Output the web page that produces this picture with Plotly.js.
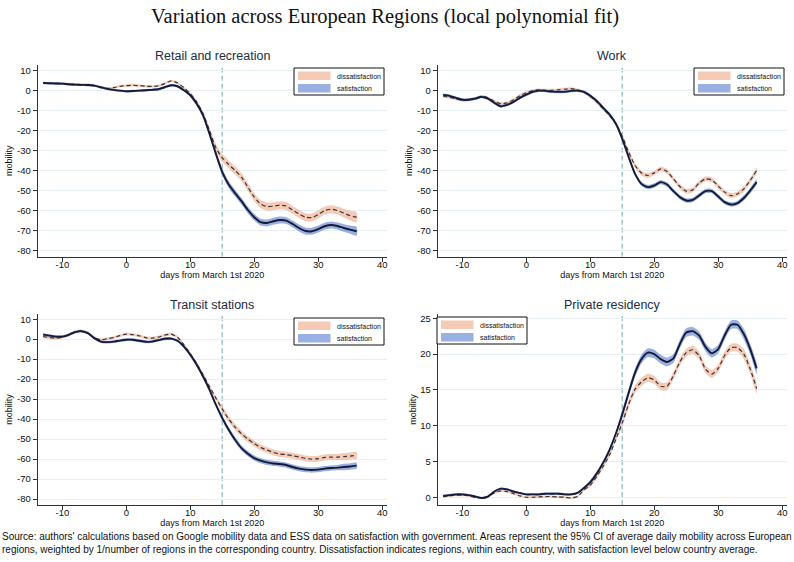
<!DOCTYPE html>
<html><head><meta charset="utf-8">
<script src="https://cdn.plot.ly/plotly-3.0.1.min.js"></script>
<style>body{margin:0;background:#fff}#chart{width:794px;height:562px}</style>
</head><body><div id="chart"></div>
<script>
// ---- data ----
const days = [-13,-12,-11,-10,-9,-8,-7,-6,-5,-4,-3,-2,-1,0,1,2,3,4,5,6,7,8,9,10,11,12,13,14,15,16,17,18,19,20,21,22,23,24,25,26,27,28,29,30,31,32,33,34,35,36];
const seriesNames = ['dissatisfaction','satisfaction'];
const panelTitles = ['Retail and recreation','Work','Transit stations','Private residency'];
const xTicks = [-10,0,10,20,30,40];
const yTicksMob = [-80,-70,-60,-50,-40,-30,-20,-10,0,10];
const yTicksRes = [0,5,10,15,20,25];
const policyDay = 15;

const retailSat = [3.7,3.5,3.4,3.3,3.0,2.8,2.7,2.6,2.3,1.5,0.7,0.2,-0.2,-0.5,-0.4,-0.2,0,0.2,0.5,1.5,2.5,2.0,0,-2.5,-6.7,-12.5,-21.7,-31.7,-40.8,-47,-51.3,-55.3,-59.7,-63.3,-65.8,-66.2,-65.3,-64.7,-65,-66.7,-68.7,-70.2,-70.3,-69.2,-67.8,-67.2,-67.7,-68.7,-69.5,-70.3];
const retailDiss = [3.7,3.5,3.4,3.3,3.0,2.8,2.7,2.6,2.3,1.5,0.9,1.3,2.0,2.3,2.5,2.3,2.0,1.9,2.2,3.3,4.7,3.7,1.3,-1.7,-5.8,-11.7,-20,-28.7,-33.7,-37,-40,-43.3,-48.3,-53.3,-56.7,-58,-57.8,-57.3,-57.7,-59.7,-61.7,-63.3,-63.5,-62,-60,-59.3,-60,-61.3,-62.5,-63.3];
const workSat = [-2.3,-2.8,-3.8,-4.7,-4.7,-4.2,-3.3,-4.2,-6.3,-8,-7.3,-5.8,-3.8,-2.2,-0.8,-0.2,-0.3,-0.7,-0.8,-0.8,-0.3,-0.2,-0.8,-2.7,-5.3,-8.7,-12,-16.7,-24.2,-33.3,-41.7,-46.7,-48.3,-47.5,-45.8,-47,-50.3,-53.3,-55,-54.7,-52.5,-50.3,-50.3,-53,-55.8,-57,-56.3,-53.7,-50,-45.8];
const workDiss = [-3,-3.5,-4.3,-5,-4.8,-4,-3,-3.8,-5.5,-6.7,-6.3,-4.7,-2.7,-1.2,-0.2,0.2,0,0,0.2,0.5,0.8,0.2,-1,-3,-5.8,-9.2,-12.5,-16.7,-23,-30.8,-37.5,-41.3,-42.5,-41.2,-39.2,-40.5,-44.2,-48,-50.3,-49.7,-46.3,-44.2,-44.7,-47.8,-50.8,-52.5,-51.7,-49.2,-45,-40];
const transitSat = [2.3,1.8,1.3,1.3,2.2,3.5,4,3,0.5,-1.2,-1.5,-1.2,-0.7,-0.3,-0.3,-0.8,-1.3,-1.2,-0.5,0.2,0.3,-0.8,-3.7,-7.8,-12.8,-18.7,-25.3,-32.8,-39.5,-45.3,-50.3,-54.5,-57.3,-59.5,-60.8,-61.7,-62.2,-62.5,-63,-64,-64.8,-65.3,-65.5,-65.3,-64.8,-64.5,-64.3,-64,-63.7,-63.3];
const transitDiss = [1.3,0.8,0.5,1,2.2,3.7,4,3,0.7,-0.3,0.2,0.8,1.8,2.5,2.3,1.7,0.8,0.5,1,2,2.5,1,-2.8,-7.3,-12.3,-17.8,-23.7,-29.5,-35,-40,-44,-47.3,-50,-52.3,-54.2,-55.5,-56.7,-57.5,-57.8,-58.3,-59,-59.7,-60,-59.8,-59.2,-59,-59,-58.8,-58.5,-58.2];
const residSat = [0.2,0.3,0.4,0.4,0.3,0.1,-0.1,0.1,0.8,1.2,1.1,0.8,0.6,0.4,0.4,0.4,0.5,0.5,0.5,0.4,0.4,0.6,1.3,2.1,3.3,4.8,6.6,8.9,11.6,14.6,17.4,19.3,20.2,20,19.3,18.9,19.4,21.4,23,23.2,22.6,21,20.1,20.7,22.6,24.1,24.1,22.8,20.7,18];
const residDiss = [0.1,0.2,0.3,0.3,0.2,0,-0.1,0.1,0.6,0.9,0.8,0.5,0.2,0,0,0.05,0.1,0.1,0.05,0,-0.1,0.1,1,1.7,2.9,4.3,5.9,8.1,10.4,13,15.1,16.1,16.7,16.4,15.5,15.5,17,18.9,20.2,20.6,19.8,17.9,17.2,18,19.8,20.9,20.9,20,17.9,15.2];

// 95% CI half-widths read from the shaded areas
const retailDissCI = [0.6,0.6,0.6,0.6,0.6,0.6,0.6,0.6,0.6,0.6,0.6,0.6,0.6,0.6,0.6,0.6,0.6,0.6,0.6,0.6,0.6,0.6,0.6,0.8,1.0,1.2,1.5,1.8,2.0,2.0,2.0,2.0,2.0,2.0,2.0,2.0,2.0,2.0,2.0,2.0,2.0,2.0,2.0,2.0,2.0,2.0,2.0,2.2,2.4,2.6];
const retailSatCI  = [0.6,0.6,0.6,0.6,0.6,0.6,0.6,0.6,0.6,0.6,0.6,0.6,0.6,0.6,0.6,0.6,0.6,0.6,0.6,0.6,0.6,0.6,0.6,0.8,1.0,1.2,1.4,1.6,1.7,1.7,1.7,1.7,1.7,1.7,1.7,1.7,1.7,1.7,1.7,1.7,1.7,1.7,1.7,1.7,1.7,1.7,1.7,1.9,2.0,2.2];
const workDissCI   = [0.7,0.7,0.7,0.7,0.7,0.7,0.7,0.7,0.7,0.7,0.7,0.7,0.7,0.7,0.7,0.7,0.7,0.7,0.7,0.7,0.7,0.7,0.7,0.9,0.9,0.9,0.9,0.9,1.2,1.2,1.2,1.2,1.2,1.2,1.2,1.2,1.2,1.2,1.2,1.2,1.2,1.2,1.2,1.2,1.2,1.2,1.2,1.4,1.4,1.4];
const workSatCI    = [0.7,0.7,0.7,0.7,0.7,0.7,0.7,0.7,0.7,0.7,0.7,0.7,0.7,0.7,0.7,0.7,0.7,0.7,0.7,0.7,0.7,0.7,0.7,0.9,0.9,0.9,0.9,0.9,1.1,1.1,1.1,1.1,1.1,1.1,1.1,1.1,1.1,1.1,1.1,1.1,1.1,1.1,1.1,1.1,1.1,1.1,1.1,1.3,1.3,1.3];
const transitDissCI= [0.7,0.7,0.7,0.7,0.7,0.7,0.7,0.7,0.7,0.7,0.7,0.7,0.7,0.7,0.7,0.7,0.7,0.7,0.7,0.7,0.7,0.7,0.7,1.0,1.0,1.0,1.0,1.0,1.5,1.5,1.5,1.5,1.5,1.5,1.5,1.5,1.5,1.5,1.5,1.5,1.5,1.5,1.5,1.5,1.5,1.5,1.5,1.8,1.8,1.8];
const transitSatCI = [0.7,0.7,0.7,0.7,0.7,0.7,0.7,0.7,0.7,0.7,0.7,0.7,0.7,0.7,0.7,0.7,0.7,0.7,0.7,0.7,0.7,0.7,0.7,1.0,1.0,1.0,1.0,1.0,1.3,1.3,1.3,1.3,1.3,1.3,1.3,1.3,1.3,1.3,1.3,1.3,1.3,1.3,1.3,1.3,1.3,1.3,1.3,1.6,1.6,1.6];
const residDissCI  = [0.15,0.15,0.15,0.15,0.15,0.15,0.15,0.15,0.15,0.15,0.15,0.15,0.15,0.15,0.15,0.15,0.15,0.15,0.15,0.15,0.15,0.15,0.15,0.3,0.3,0.3,0.3,0.3,0.55,0.55,0.55,0.55,0.55,0.55,0.55,0.55,0.55,0.55,0.55,0.55,0.55,0.55,0.55,0.55,0.55,0.55,0.55,0.7,0.7,0.7];
const residSatCI   = [0.15,0.15,0.15,0.15,0.15,0.15,0.15,0.15,0.15,0.15,0.15,0.15,0.15,0.15,0.15,0.15,0.15,0.15,0.15,0.15,0.15,0.15,0.15,0.3,0.3,0.3,0.3,0.3,0.6,0.6,0.6,0.6,0.6,0.6,0.6,0.6,0.6,0.6,0.6,0.6,0.6,0.6,0.6,0.6,0.6,0.6,0.6,0.75,0.75,0.75];

const footerText = "Source: authors' calculations based on Google mobility data and ESS data on satisfaction with government. Areas represent the 95% CI of average daily mobility across European<br>regions, weighted by 1/number of regions in the corresponding country. Dissatisfaction indicates regions, within each country, with satisfaction level below country average.";

// ---- styling ----
const W = 794, H = 562;
const bandColors = ['rgba(242,186,160,0.75)', 'rgba(120,148,216,0.75)'];
const lineColors = ['#36363b', '#151b36'];
const FONT = 'Liberation Sans, Arial, sans-serif';
const px = p => p / W;
const py = p => 1 - p / H;

const panels = [
  {title: panelTitles[0], sat: retailSat, diss: retailDiss, satCI: retailSatCI, dissCI: retailDissCI, xd:[37.7,386.7], yd:[65,256.7], yr:[-83,12.6], yt: yTicksMob, leg:[294,68]},
  {title: panelTitles[1], sat: workSat, diss: workDiss, satCI: workSatCI, dissCI: workDissCI, xd:[437.7,786.7], yd:[65,256.7], yr:[-83,12.6], yt: yTicksMob, leg:[694,68]},
  {title: panelTitles[2], sat: transitSat, diss: transitDiss, satCI: transitSatCI, dissCI: transitDissCI, xd:[37.7,386.7], yd:[314,505], yr:[-83,12.6], yt: yTicksMob, leg:[294,318]},
  {title: panelTitles[3], sat: residSat, diss: residDiss, satCI: residSatCI, dissCI: residDissCI, xd:[437.7,786.7], yd:[314,505], yr:[-1.08,25.6], yt: yTicksRes, leg:[437,317]}
];

const traces = [];
const layout = {
  width: W, height: H,
  margin: {l:0, r:0, t:0, b:0},
  paper_bgcolor: '#fff', plot_bgcolor: '#fff',
  showlegend: false,
  font: {family: FONT, color: '#111', size: 9},
  title: {text: 'Variation across European Regions (local polynomial fit)', font: {family: 'Liberation Serif, Times New Roman, serif', size: 20.5, color: '#111'}, x: px(385), xanchor: 'center', y: py(16), yanchor: 'middle'},
  shapes: [], annotations: []
};

panels.forEach((p, i) => {
  const n = i + 1;
  const xa = 'x' + (n === 1 ? '' : n), ya = 'y' + (n === 1 ? '' : n);
  const series = [
    {y: p.diss, ci: p.dissCI},
    {y: p.sat, ci: p.satCI}
  ];
  series.forEach((s, k) => {
    const up = s.y.map((v, j) => v + s.ci[j]);
    const lo = s.y.map((v, j) => v - s.ci[j]);
    traces.push({
      x: days.concat(days.slice().reverse()),
      y: up.concat(lo.slice().reverse()),
      xaxis: xa, yaxis: ya, type: 'scatter', mode: 'lines',
      fill: 'toself', fillcolor: bandColors[k], line: {width: 0, shape: 'spline', smoothing: 0.6},
      hoverinfo: 'skip', name: seriesNames[k]
    });
  });
  series.forEach((s, k) => {
    traces.push({
      x: days, y: s.y, xaxis: xa, yaxis: ya, type: 'scatter', mode: 'lines',
      line: k === 0 ? {color: lineColors[0], width: 1.2, dash: '4px,3px', shape: 'spline', smoothing: 0.6}
                    : {color: lineColors[1], width: 1.9, shape: 'spline', smoothing: 0.6},
      name: seriesNames[k]
    });
  });

  const axX = 'xaxis' + (n === 1 ? '' : n), axY = 'yaxis' + (n === 1 ? '' : n);
  layout[axX] = {
    domain: [px(p.xd[0]), px(p.xd[1])], anchor: ya, range: [-13.85, 40.7],
    tickmode: 'array', tickvals: xTicks, ticktext: xTicks.map(String),
    showline: true, linecolor: '#333', linewidth: 1, ticks: 'outside', ticklen: 4, tickcolor: '#333',
    ticklabelstandoff: -5,
    showgrid: false, zeroline: false, tickfont: {size: 9.5, family: FONT, color: '#111'},
    title: {text: 'days from March 1st 2020', font: {size: 9, family: FONT, color: '#111'}, standoff: 1}
  };
  layout[axY] = {
    domain: [py(p.yd[1]), py(p.yd[0])], anchor: xa, range: p.yr,
    tickmode: 'array', tickvals: p.yt, ticktext: p.yt.map(String),
    showline: true, linecolor: '#333', linewidth: 1, ticks: 'outside', ticklen: 4, tickcolor: '#333',
    showgrid: true, gridcolor: '#e6eff2', gridwidth: 1, zeroline: false,
    tickfont: {size: 9.5, family: FONT, color: '#111'},
    title: {text: 'mobility', font: {size: 9, family: FONT, color: '#111'}, standoff: 2}
  };

  // policy day marker
  layout.shapes.push({type: 'line', xref: xa, yref: ya + ' domain', x0: policyDay, x1: policyDay, y0: 0, y1: 1,
    line: {color: '#a6c3c6', width: 1.5, dash: '5px,3px'}, layer: 'below'});

  // subplot title
  layout.annotations.push({text: p.title, xref: 'paper', yref: 'paper', x: px((p.xd[0] + p.xd[1]) / 2), y: py(p.yd[0] - 9),
    xanchor: 'center', yanchor: 'middle', showarrow: false, font: {size: 12.5, family: FONT, color: '#1d2b44'}});

  // legend box
  const [lx, ly] = p.leg;
  layout.shapes.push({type: 'rect', xref: 'paper', yref: 'paper', x0: px(lx), x1: px(lx + 90), y0: py(ly), y1: py(ly + 27),
    line: {color: '#111', width: 1}, fillcolor: '#fff', layer: 'above'});
  seriesNames.forEach((nm, k) => {
    const sy = ly + 3.5 + k * 12.5;
    layout.shapes.push({type: 'rect', xref: 'paper', yref: 'paper', x0: px(lx + 4), x1: px(lx + 36.5), y0: py(sy), y1: py(sy + 8.5),
      line: {width: 0}, fillcolor: bandColors[k], layer: 'above'});
    layout.annotations.push({text: nm, xref: 'paper', yref: 'paper', x: px(lx + 41), y: py(sy + 4.5), xanchor: 'left', yanchor: 'middle',
      showarrow: false, font: {size: 7, family: FONT, color: '#111'}});
  });
});

layout.annotations.push({text: footerText, xref: 'paper', yref: 'paper', x: 0, y: py(543), xanchor: 'left', yanchor: 'middle',
  align: 'left', showarrow: false, font: {size: 10, family: FONT, color: '#111'}});

Plotly.newPlot('chart', traces, layout, {displayModeBar: false, staticPlot: true});
</script>
</body></html>
